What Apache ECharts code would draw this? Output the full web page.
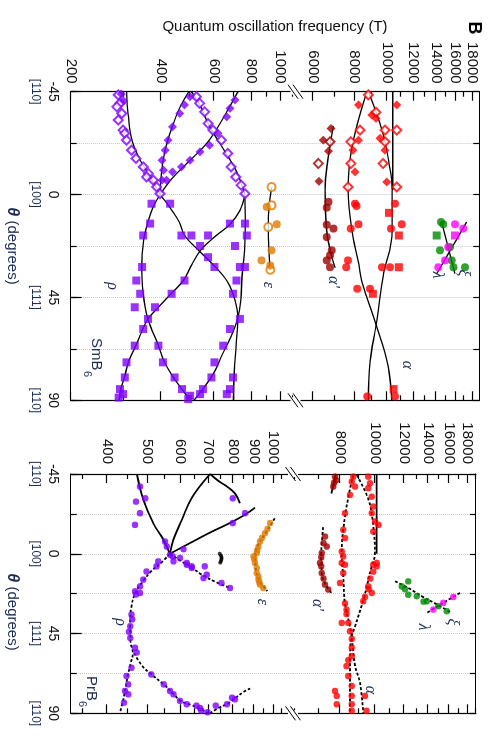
<!DOCTYPE html>
<html>
<head>
<meta charset="utf-8">
<script src="https://cdn.jsdelivr.net/npm/echarts@6/dist/echarts.min.js"></script>
<style>
html, body { margin: 0; padding: 0; background: #fff; overflow: hidden; }
#chart { position: absolute; left: 490px; top: 0; width: 748px; height: 490px;
  transform: rotate(90deg); transform-origin: 0 0; background: #fff; }
</style>
</head>
<body>
<div id="chart"></div>
<script>
// ---- axes ----
var thetaBrackets = {'-45': '[110]', '0': '[100]', '45': '[111]', '90': '[110]'};

var smLowRange = [200, 1145];
var smHighRange = [5420, 18860];
var prLowRange = [328, 1114];
var prHighRange = [5934, 19000];

var smLowTicks = [300, 500, 700, 900, 1100];
var smLowLabels = [200, 400, 600, 800, 1000];
var smHighTicks = [7000, 9000, 11000, 13000, 15000, 17000];
var smHighLabels = [6000, 8000, 10000, 12000, 14000, 16000, 18000];
var prLowTicks = [350, 450, 550, 650, 750, 850, 950, 1050];
var prLowLabels = [400, 500, 600, 700, 800, 900, 1000];
var prHighTicks = [6000, 7000, 9000, 11000, 13000, 15000, 17000, 19000];
var prHighLabels = [8000, 10000, 12000, 14000, 16000, 18000];

// ---- SmB6 : rho (purple) ----
var smRhoOpen = [[-43.6,288],[-39.9,292],[-38.4,285],[-35.5,296],[-32.6,288],[-28.2,299],[-26.8,303],[-23.8,307],
  [-19.4,319],[-15.8,330],[-12.1,349],[-9.2,363],[-7.7,358],[-6.3,377],[-3.3,387],[-0.4,397],
  [-42.8,525],[-39.9,538],[-36.2,559],[-31.1,574],[-28.2,596],[-23.8,636],[-18,668],[-12.1,685],
  [-7.7,710],[-4.1,740],[-0.4,762]];
var smRhoFilled = [[-44,295],[-41,300],[-42.8,500],[-39.2,479],[-35.5,462],[-29.6,437],[-23.8,422],[-19.4,413],
  [-15,403],[-10.7,408],[-6.3,403],[-41.4,706],[-37.7,679],[-34,663],[-26.8,620],[-21.6,580],
  [-18.7,540],[-15,500],[-12.1,468],[-9.9,437],[-6.3,417]];
var smRhoSquare = [[4,372],[4,429],[12.7,368],[12.7,679],[12.7,762],[17.9,349],[17.9,468],[17.9,505],
  [17.9,574],[17.9,773],[22.5,540],[22.5,706],[27.4,574],[31.7,346],[31.7,603],[31.7,733],[31.7,762],
  [37.6,331],[37.6,479],[37.6,714],[43.4,341],[43.4,434],[43.4,695],[49.3,327],[49.3,382],[54.4,362],
  [54.4,733],[58.8,349],[58.8,679],[66.1,327],[66.1,392],[66.1,645],[73.4,307],[73.4,406],[73.4,603],
  [80,303],[80,444],[80,589],[80,695],[85.1,292],[85.1,470],[85.1,552],[85.1,679],[88.8,289],
  [87.3,299],[88,500],[89.5,493],[87.3,540],[87.3,663]];
var smRhoFit1 = [[-45,307],[-35,311],[-24,320],[-15,341],[-8,368],[0,397]];
var smRhoFit2 = [[-45,495],[-38,462],[-30,437],[-20,414],[-10,402],[0,397]];
var smRhoFit3 = [[-45,505],[-40,535],[-30,580],[-20,645],[-10,715],[0,762]];
var smRhoFit4 = [[-45,722],[-38,675],[-30,622],[-22,565],[-15,500],[-7,435],[0,397]];
var smRhoFit5 = [[0,397],[6,430],[12,460],[18,480],[24,530],[31,600],[38,665],[46,705],[54,722],[66,712],[78,702],[90,698]];
var smRhoFit6 = [[0,762],[12,765],[24,760],[36,745],[46,738],[54,722],[62,685],[70,640],[78,600],[86,545],[90,515]];
var smRhoFit7 = [[0,762],[7,733],[13,679],[18,610],[24,545],[31,505],[37.6,475],[43.4,432],[49.3,392],[54.4,362],
  [60,345],[66,330],[73,312],[80,302],[85,294],[90,290]];
var smRhoFit8 = [[0,397],[6,375],[13,360],[20,350],[32,345],[42,348],[54.4,362],[66,392],[73,410],[80,440],[86,475],[90,500]];

// ---- SmB6 : epsilon (orange) ----
var smEpsOpen = [[-3.3,935],[4.7,935],[14.2,911],[32.9,925]];
var smEpsFilled = [[5.4,900],[13,972],[24.4,935],[28.8,866],[31,925]];
var smEpsFit = [[-3.3,935],[5,918],[14,912],[24,916],[33,925]];

// ---- SmB6 : alpha' (dark red) ----
var smAlphaPOpen = [[-23.1,6757],[-13.6,6234]];
var smAlphaPFilled = [[-28.9,6805],[-23.8,6446],[-19,6681],[-5.8,6265]];
var smAlphaPCircle = [[3.2,6681],[5.7,6605],[13.2,6605],[14.9,6913],[18.6,6605],[24.4,6832],[26.6,6757],[28.8,6605],[31.8,6757]];
var smAlphaPFit = [[-30,6910],[-15,6650],[-2,6530],[16,6605],[25,6780],[32,7000]];

// ---- SmB6 : alpha (red) ----
var smAlphaOpen = [[-43.6,8793],[-36,9265],[-28.2,8305],[-28.2,9864],[-28.2,10691],[-23.1,7797],[-23.1,9864],
  [-13.6,7797],[-13.6,9728],[-3.3,7648],[-3.3,10691]];
var smAlphaFilled = [[-39.2,8222],[-39.2,10691],[-34.8,9000],[-33.3,9265],[-23.8,8222],[-24.6,9530],[-19.4,7915],
  [-19.4,9864],[-9.9,8024],[-5.5,9980]];
var smAlphaCircle = [[4,8024],[5,8100],[4,10565],[13,8222],[14.9,7797],[14.9,10276],[13,11067],[28.8,7648],[31.8,7556],
  [31.8,9660],[31.8,10208],[41.2,8141],[41.2,8897],[88.3,8730],[88.3,10565]];
var smAlphaSquare = [[8,10133],[17.9,10846],[31.8,10846],[43.4,9071],[85.1,10462]];
var smAlphaFit1 = [[-45,8700],[-21,7860],[-2,7650],[16,7860],[29,8200],[36,8350],[45,8700],[57,9280],[75,10070],[90,10330]];
var smAlphaFit2 = [[-45,8790],[-28,9660],[-14,10130],[-2,10350],[16,10350],[36,9730],[57,9280],[73,8900],[90,8790]];
var smAlphaFit3 = [[-45,10400],[-2,10400]];

// ---- SmB6 : xi (green), lambda (magenta) ----
var smXiCircle = [[13,14722],[12,14500],[24.4,14394],[23,15418],[28.8,15596],[31.8,15780],[31.8,17090]];
var smXiSquare = [[17.9,14070]];
var smLambdaCircle = [[13,15955],[14.9,16895],[23,15238],[28.8,14894],[31.8,14228]];
var smLambdaSquare = [[17.9,15955]];
var smXiFit = [[12,14560],[23.3,15240],[34.6,15955]];
var smLambdaFit = [[12,17290],[23.3,15600],[34.6,14070]];

// ---- PrB6 : rho (purple) ----
var prRhoDots = [[-37.9,480],[-31.3,494],[-29.4,470],[-22.9,480],[-16.3,467],[-6.9,551],[-4.1,556],[-2.6,610],
  [-31.3,800],[-17.3,800],[-22.9,855],[0.6,566],[1.5,575],[2.4,598],[4.3,577],[4.3,531],[5.2,621],[6.2,621],
  [7.1,638],[7.1,686],[7.1,526],[8,638],[10,498],[11.8,693],[13.7,681],[16.5,752],[19.3,788],[14.6,489],
  [18.4,480],[21.2,467],[22.1,480],[23,470],[34.3,458],[37,460],[40.9,455],[44,452],[47.5,455],[53,467],
  [55.7,472],[64.3,458],[69,446],[73.7,450],[77.4,442],[79.3,450],[84,440],[68.1,511],[73.7,547],[77.4,566],
  [79.3,577],[83,598],[84.9,621],[85.7,655],[88.5,673],[89.4,696],[87,668],[85.7,728],[84.9,775],[81.2,797],[82.1,810]];
var prRhoFit1 = [[-45,472],[-30,490],[-17,517],[-8,546],[0,566]];
var prRhoFit2 = [[-45,706],[-32,640],[-19,604],[-8,577],[0,566]];
var prRhoFit3 = [[-45,706],[-41,740],[-38,774],[-34,810],[-28.5,832]];
var prRhoFit4 = [[0,566],[-6,632],[-12,706],[-17.4,788],[-22,855],[-26,904]];
var prRhoFit5 = [[0,566],[5,540],[10,510],[15,490],[22,468],[30,458],[40,455],[50,456],[56,462],[62,456],[70,448],[80,440],[90,430]];
var prRhoFit6 = [[56,465],[63,485],[68,511],[73.7,547],[79,577],[83,600],[85.5,640],[88,675],[90,700]];
var prRhoFit7 = [[90,705],[87,740],[84,785],[81,815],[78,848],[76,880]];
var prRhoFit8 = [[0,566],[4,600],[8,640],[12,676],[16,730],[19.3,788]];
var prBlackDots = [[0,745],[1,750],[2,752],[3,752],[4,750],[5,747]];

// ---- PrB6 : epsilon (orange) ----
var prEpsDots = [[-17.3,981],[-14,968],[-11.6,955],[-9,940],[-6.9,929],[-4.1,921],[-2,915],[-0.4,913],[1.5,896],
  [3,900],[5.2,904],[8,913],[10.9,913],[12.8,921],[14.6,921],[16,925],[17.4,929],[19.3,946]];
var prEpsFit = [[-20,1008],[-12,960],[-5,920],[0,905],[8,908],[15,925],[21,968]];

// ---- PrB6 : alpha' (dark red) ----
var prAlphaPDots = [[-43.5,7754],[-41.5,7800],[-40,7700],[-37.9,7659],[-9.7,7276],[-6,7200],[-4.1,7355],[-0.4,7122],
  [2,7100],[5.2,7047],[7.1,7100],[10.9,7122],[14,7200],[17.4,7276],[20.2,7430]];
var prAlphaPFit1 = [[-45,7800],[-34,7580]];
var prAlphaPFit2 = [[-15,7190],[-5,7120],[0,7100],[10,7120],[17,7280],[22,7580]];

// ---- PrB6 : alpha (red) ----
var prAlphaDots = [[-43.5,8707],[-40.7,8617],[-37.9,8802],[-33.2,8527],[-22.9,8258],[-13.5,8169],[-8.8,8258],
  [-1.3,8087],[1.5,8169],[6.2,8258],[-43.5,9577],[-39.8,9680],[-37,9577],[-32.2,9785],[-26.6,9887],[-22.9,9785],
  [-18.2,9993],[-16.3,10213],[-12.5,9887],[7.1,10104],[10.1,9887],[5.2,8087],[10.9,8169],[16.5,8000],[28,8258],
  [31.5,8344],[34,8344],[39,8087],[39,8436],[43.7,8527],[48,8617],[53,8617],[57.8,8617],[60,8436],[63.4,8344],
  [69,8436],[74.6,8617],[80.2,8617],[84.9,8617],[88.6,8617],[77.4,7754],[80.2,7835],[84.9,7835],[80.2,9376],
  [88.6,9473],[14,9700],[18.4,9577],[20,9600],[22.1,9785],[24.3,9376],[26.8,9281],[6.2,9887],[5.2,10104]];
var prAlphaFit1 = [[-44.4,8707],[-32,8436],[-13.5,8169],[0,8087],[13,8169],[28,8258],[41,8527],[46.7,8617],[63,8802],[73,9090],[90,9281]];
var prAlphaFit2 = [[-44.4,8898],[-30.8,9577],[-15.7,9887],[0,9993],[7,9785],[26,9281],[41,8802],[46.7,8617],[60,8527],[90,8527]];
var prAlphaFit3 = [[-44.4,10104],[0,10104]];

// ---- PrB6 : xi (green), lambda (magenta) ----
var prXiDots = [[15.6,12354],[18.4,11847],[20,12100],[23.1,12354],[23.9,13030],[26.8,13885],[27,13600],[29.6,14950],[32.4,15768]];
var prLambdaDots = [[24.4,16447],[27.7,15430],[31.5,14480]];
var prXiFit = [[15.5,11354],[19.5,12400],[24.2,13522],[28.5,14800],[33.4,16277]];
var prLambdaFit = [[22.1,17160],[27.7,15430],[33.4,13885]];

// ---------------------------------------------------------------
var PURPLE = '#8000ff', RED = '#ff0000', DRED = '#a00000', ORANGE = '#e07b00', GREEN = '#008a00', MAGENTA = '#ff00ff';
var LABEL_FONT = 'Liberation Sans';

var grids = [
  {left: 91.7, top: 192, width: 308.6, height: 227.3},
  {left: 91.7, top: 10.7, width: 308.6, height: 181.3},
  {left: 474, top: 197, width: 239.3, height: 222.3},
  {left: 474, top: 14, width: 239.3, height: 183}
];

function thetaAxis(i, low) {
  return {
    type: 'value', gridIndex: i, min: -45, max: 90, interval: 22.5,
    position: low ? 'bottom' : 'top',
    axisLine: {show: true, onZero: false, lineStyle: {color: '#000', width: 1.2}},
    axisTick: {show: true, inside: true, length: 6, lineStyle: {color: '#000', width: 1.2}},
    axisLabel: low ? {
      show: true, margin: 9,
      formatter: function (v) {
        var b = thetaBrackets[v];
        return b ? '{n|' + v + '}\n{b|' + b + '}' : '';
      },
      rich: {
        n: {fontSize: 14, color: '#111', fontFamily: LABEL_FONT, lineHeight: 17},
        b: {fontSize: 12, color: '#1c2b55', fontFamily: LABEL_FONT, lineHeight: 18}
      }
    } : {show: false},
    splitLine: {show: true, lineStyle: {color: '#c8c8c8', type: 'dotted', width: 1}}
  };
}

// longer ticks at the labelled angles
function thetaMajor(i) {
  return {
    type: 'value', gridIndex: i, min: -45, max: 90, interval: 45, position: 'bottom',
    axisLine: {show: false, onZero: false},
    axisTick: {show: true, inside: true, length: 11, lineStyle: {color: '#000', width: 1.2}},
    axisLabel: {show: false}, splitLine: {show: false}
  };
}

function freqAxis(i, range, values, side, major, margin) {
  return {
    type: 'log', gridIndex: i, min: range[0], max: range[1], position: side,
    axisLine: {show: major, onZero: false, lineStyle: {color: '#000', width: 1.2}},
    axisTick: {show: true, inside: true, length: major ? 9 : 5, customValues: values, lineStyle: {color: '#000', width: 1.2}},
    axisLabel: (major && side === 'left') ? {
      show: true, customValues: values, margin: margin, fontSize: 15, color: '#111', fontFamily: LABEL_FONT,
      formatter: function (v) { return String(Math.round(v)); }
    } : {show: false},
    splitLine: {show: false}
  };
}

function freqAxes(i, range, labels, ticks, margin) {
  return [
    freqAxis(i, range, labels, 'left', true, margin),
    freqAxis(i, range, ticks, 'left', false, margin),
    freqAxis(i, range, labels, 'right', true, margin),
    freqAxis(i, range, ticks, 'right', false, margin)
  ];
}

function pts(data, g, symbol, size, color, open) {
  return {
    type: 'scatter', xAxisIndex: g, yAxisIndex: g * 4, data: data, symbol: symbol, symbolSize: size, z: 3,
    itemStyle: open ? {color: '#fff', borderColor: color, borderWidth: 2} : {color: color},
    silent: true
  };
}

function fit(data, g, dash, width) {
  return {
    type: 'line', xAxisIndex: g, yAxisIndex: g * 4, data: data, smooth: 0.4, symbol: 'none', z: 2, silent: true,
    lineStyle: {color: '#000', width: width || 1.3, type: dash ? [3, 2] : 'solid'}
  };
}

var series = [
  fit(smRhoFit1, 0), fit(smRhoFit2, 0), fit(smRhoFit3, 0), fit(smRhoFit4, 0),
  fit(smRhoFit5, 0), fit(smRhoFit6, 0), fit(smRhoFit7, 0), fit(smRhoFit8, 0),
  fit(smEpsFit, 0),
  pts(smRhoOpen, 0, 'diamond', 9, PURPLE, true),
  pts(smRhoFilled, 0, 'diamond', 9, PURPLE, false),
  pts(smRhoSquare, 0, 'rect', 8, PURPLE, false),
  pts(smEpsOpen, 0, 'circle', 8, ORANGE, true),
  pts(smEpsFilled, 0, 'circle', 8, ORANGE, false),

  fit(smAlphaPFit, 1), fit(smAlphaFit1, 1), fit(smAlphaFit2, 1), fit(smAlphaFit3, 1),
  fit(smXiFit, 1), fit(smLambdaFit, 1),
  pts(smAlphaPOpen, 1, 'diamond', 9, DRED, true),
  pts(smAlphaPFilled, 1, 'diamond', 9, DRED, false),
  pts(smAlphaPCircle, 1, 'circle', 8, DRED, false),
  pts(smAlphaOpen, 1, 'diamond', 9, RED, true),
  pts(smAlphaFilled, 1, 'diamond', 9, RED, false),
  pts(smAlphaCircle, 1, 'circle', 8, RED, false),
  pts(smAlphaSquare, 1, 'rect', 8, RED, false),
  pts(smXiCircle, 1, 'circle', 8, GREEN, false),
  pts(smXiSquare, 1, 'rect', 8, GREEN, false),
  pts(smLambdaCircle, 1, 'circle', 8, MAGENTA, false),
  pts(smLambdaSquare, 1, 'rect', 8, MAGENTA, false),

  fit(prRhoFit1, 2, false, 1.8), fit(prRhoFit2, 2, false, 1.8), fit(prRhoFit3, 2, false, 1.8), fit(prRhoFit4, 2, false, 1.8),
  fit(prRhoFit5, 2, true, 1.8), fit(prRhoFit6, 2, true, 1.8), fit(prRhoFit7, 2, true, 1.8), fit(prRhoFit8, 2, true, 1.8),
  fit(prEpsFit, 2, true, 1.8),
  pts(prRhoDots, 2, 'circle', 6.5, PURPLE, false),
  pts(prEpsDots, 2, 'circle', 6.5, ORANGE, false),
  pts(prBlackDots, 2, 'circle', 4, '#000', false),

  fit(prAlphaPFit1, 3, false, 1.8), fit(prAlphaPFit2, 3, true, 1.8),
  fit(prAlphaFit1, 3, true, 1.8), fit(prAlphaFit2, 3, true, 1.8), fit(prAlphaFit3, 3, false, 1.8),
  fit(prXiFit, 3, true, 1.8), fit(prLambdaFit, 3, true, 1.8),
  pts(prAlphaPDots, 3, 'circle', 6.5, DRED, false),
  pts(prAlphaDots, 3, 'circle', 6.5, RED, false),
  pts(prXiDots, 3, 'circle', 6.5, GREEN, false),
  pts(prLambdaDots, 3, 'circle', 6.5, MAGENTA, false)
];

function txt(x, y, s, font, fill, rot, align) {
  return {
    type: 'text', x: x, y: y, rotation: rot || 0, z: 50, silent: true,
    style: {text: s, font: font, fill: fill, align: align || 'center', verticalAlign: 'middle',
      textAlign: align || 'center', textVerticalAlign: 'middle'}
  };
}
function brk(x, y) {
  return [
    {type: 'rect', z: 60, silent: true, shape: {x: x - 3, y: y - 5, width: 6, height: 10}, style: {fill: '#fff'}},
    {type: 'line', z: 61, silent: true, shape: {x1: x - 7, y1: y + 7.5, x2: x + 7, y2: y - 2.5}, style: {stroke: '#000', lineWidth: 1}},
    {type: 'line', z: 61, silent: true, shape: {x1: x - 7, y1: y + 2.5, x2: x + 7, y2: y - 7.5}, style: {stroke: '#000', lineWidth: 1}}
  ];
}

var GREEK = 'italic 16px "Liberation Serif", "DejaVu Serif", serif';
var NAVY = '#1c2b55';
var graphics = [
  txt(28, 16, 'B', 'bold 18px ' + LABEL_FONT, '#000'),
  txt(27, 215, 'Quantum oscillation frequency (T)', '15px ' + LABEL_FONT, '#111', Math.PI / 2),
  {type: 'text', x: 246, y: 478, z: 50, silent: true, style: {text: '{t|θ} (degrees)', font: '15px ' + LABEL_FONT, fill: NAVY,
    align: 'center', verticalAlign: 'middle', rich: {t: {font: 'bold italic 16px ' + LABEL_FONT, fill: NAVY}}}},
  {type: 'text', x: 612, y: 478, z: 50, silent: true, style: {text: '{t|θ} (degrees)', font: '15px ' + LABEL_FONT, fill: NAVY,
    align: 'center', verticalAlign: 'middle', rich: {t: {font: 'bold italic 16px ' + LABEL_FONT, fill: NAVY}}}},
  txt(365, 83, 'α', GREEK, NAVY), txt(282, 157, 'α\'', GREEK, NAVY), txt(285, 222, 'ε', GREEK, NAVY),
  txt(275, 53, 'λ', GREEK, NAVY), txt(273, 27, 'ξ', GREEK, NAVY), txt(286, 378, 'ρ', GREEK, NAVY),
  txt(338, 394, 'SmB', '15px ' + LABEL_FONT, NAVY, 0, 'left'), txt(371, 403, '6', '11px ' + LABEL_FONT, NAVY, 0, 'left'),
  txt(627, 67, 'λ', GREEK, NAVY), txt(622, 38, 'ξ', GREEK, NAVY), txt(690, 120, 'α', GREEK, NAVY),
  txt(605, 173, 'α\'', GREEK, NAVY), txt(602, 228, 'ε', GREEK, NAVY), txt(622, 370, 'ρ', GREEK, NAVY),
  txt(676, 399, 'PrB', '15px ' + LABEL_FONT, NAVY, 0, 'left'), txt(701, 408, '6', '11px ' + LABEL_FONT, NAVY, 0, 'left')
].concat(brk(91.7, 194.5), brk(400.3, 194.5), brk(474, 197), brk(713.3, 197));

var option = {
  backgroundColor: '#fff',
  animation: false,
  grid: grids,
  xAxis: [thetaAxis(0, true), thetaAxis(1, false), thetaAxis(2, true), thetaAxis(3, false), thetaMajor(0), thetaMajor(2)],
  yAxis: [].concat(
    freqAxes(0, smLowRange, smLowLabels, smLowTicks, 8),
    freqAxes(1, smHighRange, smHighLabels, smHighTicks, 8),
    freqAxes(2, prLowRange, prLowLabels, prLowTicks, 10),
    freqAxes(3, prHighRange, prHighLabels, prHighTicks, 10)
  ),
  series: series,
  graphic: graphics
};

var chart = echarts.init(document.getElementById('chart'));
chart.setOption(option);

window.addEventListener('resize', function () {
  chart.resize();
});
</script>
</body>
</html>
